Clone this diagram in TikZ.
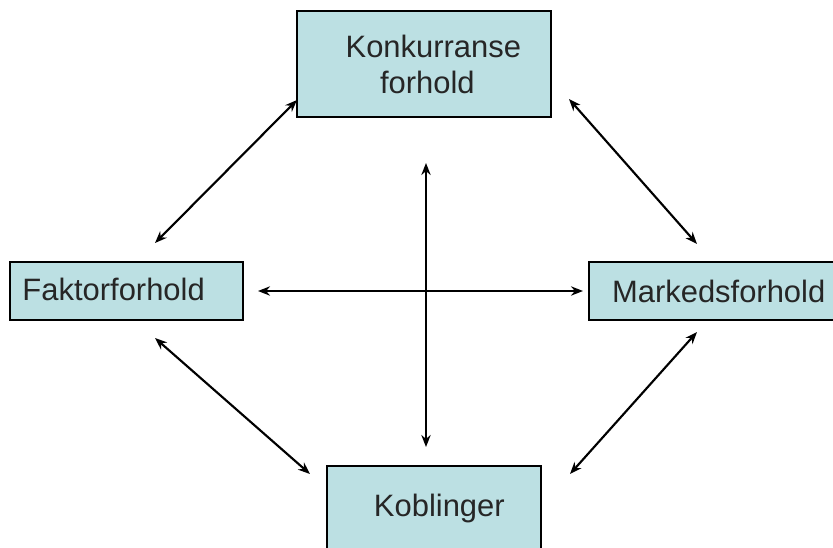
\documentclass[tikz,border=0pt]{standalone}
\usepackage{fontspec}
\setmainfont{Liberation Sans}
\usepackage{tikz}
\usetikzlibrary{arrows.meta,shapes,positioning}
\definecolor{boxblue}{HTML}{BCE0E3}
\tikzstyle{factorbox} = [rectangle, draw=black, line width=1.3pt, fill=boxblue, font=\fontsize{23.2}{27}\selectfont, text=black!85]
\tikzstyle{arrow}     = [line width=1.6pt,{Stealth[length=9pt,width=7pt]}-{Stealth[length=9pt,width=7pt]}]

\begin{document}
\begin{tikzpicture}[x=0.75pt,y=-0.75pt]
            \useasboundingbox (0,0) rectangle (833,547);
            %Create boxes
            \node (konk)    [factorbox, minimum width=190.5pt, minimum height=79.5pt, align=center] at (424,64) {\hspace*{14pt}Konkurranse\\\hspace*{5pt}forhold};
            \node (faktor)  [factorbox, minimum width=174.75pt, minimum height=43.5pt, text width=156pt, align=left, inner xsep=6pt] at (126.5,291) {\raisebox{3pt}{Faktorforhold}};
            \node (marked)  [factorbox, minimum width=184.5pt, minimum height=43.5pt] at (712,291) {\hspace*{10pt}\raisebox{-4pt}{Markedsforhold}};
            \node (kobling) [factorbox, minimum width=160.5pt, minimum height=63pt] at (434,508) {\hspace*{8pt}Koblinger};
            %Free ends of the arrows
            \coordinate (kf_1) at (297,100);
            \coordinate (kf_2) at (155,243);
            \coordinate (km_1) at (569,99);
            \coordinate (km_2) at (697,244);
            \coordinate (fk_1) at (155,338);
            \coordinate (fk_2) at (310,474);
            \coordinate (mk_1) at (697,332);
            \coordinate (mk_2) at (570,474);
            \coordinate (fm_1) at (258,291);
            \coordinate (fm_2) at (583,291);
            \coordinate (kk_1) at (426,163);
            \coordinate (kk_2) at (426,447);
            %Connect boxes
            \draw [arrow] (kf_1) -- (kf_2);
            \draw [arrow] (km_1) -- (km_2);
            \draw [arrow] (fk_1) -- (fk_2);
            \draw [arrow] (mk_1) -- (mk_2);
            \draw [arrow] (fm_1) -- (fm_2);
            \draw [arrow] (kk_1) -- (kk_2);
\end{tikzpicture}
\end{document}
